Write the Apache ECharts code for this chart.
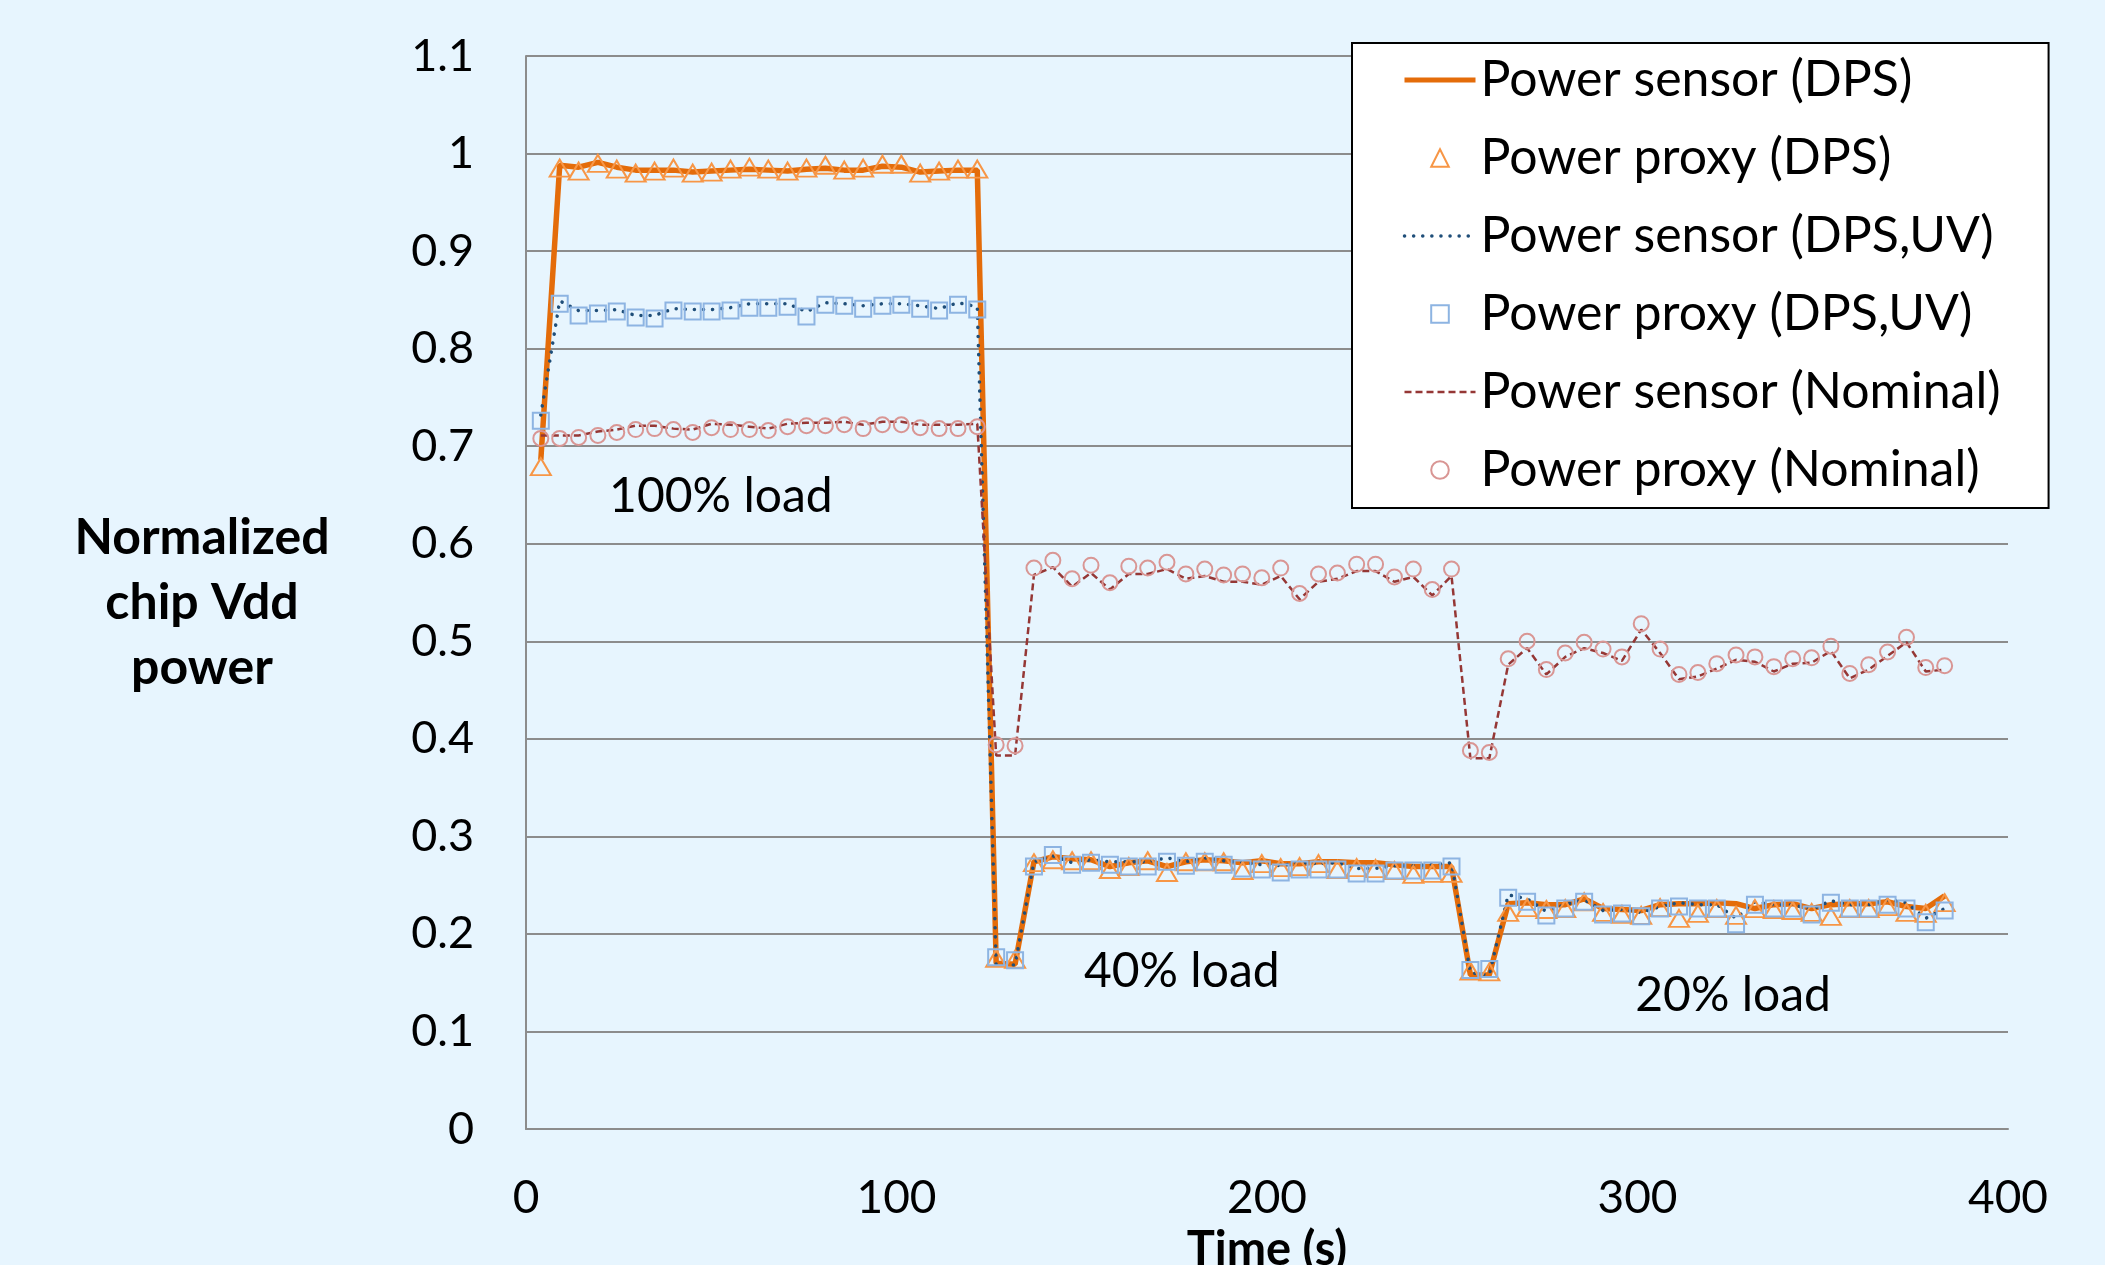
<!DOCTYPE html>
<html><head><meta charset="utf-8">
<script src="https://cdn.jsdelivr.net/npm/echarts@6/dist/echarts.min.js"></script>
<style>html,body{margin:0;padding:0;background:#E7F5FE;}#c{width:2105px;height:1265px;}</style>
</head><body><div id="c"></div>
<script>
// Time (s) of each sample
const times = [4.0, 9.1, 14.2, 19.4, 24.5, 29.6, 34.7, 39.8, 45.0, 50.1,
  55.2, 60.3, 65.4, 70.6, 75.7, 80.8, 85.9, 91.0, 96.2, 101.3,
  106.4, 111.5, 116.6, 121.8, 126.9, 132.0, 137.1, 142.2, 147.4, 152.5,
  157.6, 162.7, 167.8, 173.0, 178.1, 183.2, 188.3, 193.4, 198.6, 203.7,
  208.8, 213.9, 219.0, 224.2, 229.3, 234.4, 239.5, 244.6, 249.8, 254.9,
  260.0, 265.1, 270.2, 275.4, 280.5, 285.6, 290.7, 295.8, 301.0, 306.1,
  311.2, 316.3, 321.4, 326.6, 331.7, 336.8, 341.9, 347.0, 352.2, 357.3,
  362.4, 367.5, 372.6, 377.8, 382.9];

const seriesNames = ['Power sensor (DPS)', 'Power proxy (DPS)', 'Power sensor (DPS,UV)',
  'Power proxy (DPS,UV)', 'Power sensor (Nominal)', 'Power proxy (Nominal)'];

const sensorDPS = [0.686,
  0.988, 0.986, 0.991, 0.986, 0.983, 0.983, 0.983, 0.981, 0.982, 0.983, 0.984, 0.983,
  0.982, 0.984, 0.985, 0.983, 0.983, 0.987, 0.986, 0.981, 0.982, 0.983, 0.983,
  0.170, 0.169,
  0.274, 0.279, 0.277, 0.276, 0.269, 0.273, 0.275, 0.269, 0.274, 0.276, 0.275, 0.273,
  0.275, 0.272, 0.272, 0.274, 0.274, 0.273, 0.273, 0.271, 0.269, 0.269, 0.269,
  0.158, 0.158,
  0.231, 0.232, 0.230, 0.230, 0.236, 0.226, 0.225, 0.224, 0.230, 0.231, 0.231, 0.232,
  0.231, 0.226, 0.230, 0.231, 0.226, 0.230, 0.231, 0.231, 0.233, 0.228, 0.226, 0.239];

const proxyDPS = [0.679,
  0.985, 0.982, 0.990, 0.984, 0.980, 0.982, 0.985, 0.980, 0.981, 0.984, 0.986, 0.984,
  0.982, 0.985, 0.988, 0.983, 0.985, 0.989, 0.989, 0.980, 0.982, 0.984, 0.984,
  0.175, 0.174,
  0.273, 0.276, 0.275, 0.275, 0.266, 0.269, 0.275, 0.263, 0.274, 0.274, 0.274, 0.265,
  0.272, 0.268, 0.269, 0.272, 0.266, 0.268, 0.267, 0.265, 0.261, 0.262, 0.262,
  0.162, 0.161,
  0.222, 0.227, 0.225, 0.226, 0.233, 0.222, 0.220, 0.219, 0.227, 0.216, 0.221, 0.226,
  0.219, 0.226, 0.225, 0.224, 0.222, 0.218, 0.226, 0.226, 0.228, 0.222, 0.221, 0.232];

const sensorUV = [0.732,
  0.849, 0.839, 0.839, 0.840, 0.834, 0.834, 0.841, 0.840, 0.840, 0.842, 0.846, 0.846,
  0.846, 0.838, 0.847, 0.846, 0.844, 0.846, 0.846, 0.844, 0.841, 0.847, 0.843,
  0.168, 0.168,
  0.274, 0.280, 0.273, 0.276, 0.274, 0.274, 0.274, 0.278, 0.274, 0.278, 0.275, 0.273,
  0.271, 0.270, 0.273, 0.272, 0.273, 0.267, 0.267, 0.270, 0.270, 0.271, 0.273,
  0.160, 0.158,
  0.240, 0.236, 0.223, 0.230, 0.235, 0.224, 0.225, 0.222, 0.228, 0.232, 0.230, 0.230,
  0.216, 0.233, 0.230, 0.230, 0.225, 0.234, 0.230, 0.230, 0.235, 0.232, 0.216, 0.226];

const proxyUV = [0.726,
  0.846, 0.834, 0.836, 0.838, 0.832, 0.831, 0.839, 0.838, 0.838, 0.839, 0.842, 0.842,
  0.843, 0.833, 0.845, 0.844, 0.841, 0.844, 0.845, 0.841, 0.839, 0.845, 0.840,
  0.176, 0.173,
  0.269, 0.281, 0.271, 0.273, 0.271, 0.269, 0.269, 0.274, 0.270, 0.274, 0.271, 0.267,
  0.266, 0.263, 0.266, 0.266, 0.266, 0.262, 0.262, 0.265, 0.265, 0.265, 0.269,
  0.163, 0.164,
  0.237, 0.233, 0.219, 0.226, 0.233, 0.220, 0.221, 0.218, 0.226, 0.228, 0.226, 0.226,
  0.210, 0.230, 0.226, 0.226, 0.220, 0.232, 0.226, 0.226, 0.230, 0.226, 0.212, 0.224];

const sensorNom = [0.711,
  0.711, 0.711, 0.715, 0.717, 0.721, 0.721, 0.718, 0.717, 0.723, 0.722, 0.720, 0.718,
  0.723, 0.724, 0.724, 0.725, 0.722, 0.725, 0.725, 0.722, 0.722, 0.722, 0.723,
  0.383, 0.383,
  0.568, 0.576, 0.556, 0.570, 0.553, 0.569, 0.569, 0.574, 0.564, 0.567, 0.561, 0.561,
  0.558, 0.567, 0.543, 0.561, 0.564, 0.572, 0.572, 0.561, 0.566, 0.547, 0.567,
  0.380, 0.380,
  0.476, 0.493, 0.466, 0.484, 0.493, 0.488, 0.480, 0.512, 0.488, 0.461, 0.464, 0.472,
  0.481, 0.479, 0.469, 0.477, 0.478, 0.490, 0.462, 0.471, 0.485, 0.499, 0.469, 0.471];

const proxyNom = [0.708,
  0.708, 0.709, 0.711, 0.714, 0.717, 0.718, 0.717, 0.714, 0.719, 0.717, 0.717, 0.716,
  0.720, 0.721, 0.721, 0.722, 0.718, 0.722, 0.722, 0.719, 0.718, 0.718, 0.720,
  0.394, 0.393,
  0.575, 0.583, 0.564, 0.578, 0.560, 0.577, 0.575, 0.581, 0.569, 0.574, 0.568, 0.569,
  0.565, 0.575, 0.549, 0.569, 0.570, 0.579, 0.579, 0.566, 0.574, 0.553, 0.574,
  0.388, 0.386,
  0.482, 0.500, 0.471, 0.488, 0.499, 0.492, 0.484, 0.518, 0.492, 0.466, 0.468, 0.477,
  0.486, 0.484, 0.474, 0.482, 0.483, 0.495, 0.467, 0.476, 0.489, 0.504, 0.473, 0.475];

const loadLabels = ['100% load', '40% load', '20% load'];
const yAxisTitle = 'Normalized\nchip Vdd\npower';
const xAxisTitle = 'Time (s)';

function pairs(arr) { return times.map(function (t, i) { return [t, arr[i]]; }); }

const FONT = 'Lato';
const grey = '#8C8C8C';
const chart = echarts.init(document.getElementById('c'), null, {renderer: 'canvas'});

function proxySeries(name, arr, symbol, size, color) {
  return {
    name: name, type: 'line', data: pairs(arr), symbol: symbol, symbolSize: size,
    showSymbol: true, showAllSymbol: true,
    lineStyle: {width: 0, opacity: 0},
    itemStyle: {color: 'rgba(0,0,0,0)', borderColor: color, borderWidth: 2}
  };
}

chart.setOption({
  backgroundColor: '#E7F5FE',
  animation: false,
  grid: {left: 526, right: 97, top: 56, bottom: 136, outerBoundsMode: 'none', containLabel: false},
  graphic: [{
    type: 'text', x: 202, y: 603, silent: true,
    style: {text: yAxisTitle, textAlign: 'center', textVerticalAlign: 'middle',
      font: 'bold 50px Lato', lineHeight: 65, fill: '#000'}
  }],
  xAxis: {
    type: 'value', min: 0, max: 400, interval: 100,
    axisLine: {show: true, lineStyle: {color: grey, width: 2}},
    axisTick: {show: false},
    splitLine: {show: false},
    axisLabel: {fontFamily: FONT, fontSize: 46, color: '#000', margin: 46},
    name: xAxisTitle, nameLocation: 'middle', nameGap: 96,
    nameTextStyle: {fontFamily: FONT, fontWeight: 'bold', fontSize: 47, color: '#000'}
  },
  yAxis: {
    type: 'value', min: 0, max: 1.1, interval: 0.1,
    axisLine: {show: true, lineStyle: {color: grey, width: 2}},
    axisTick: {show: false},
    splitLine: {show: true, lineStyle: {color: grey, width: 2}},
    axisLabel: {fontFamily: FONT, fontSize: 45, color: '#000', margin: 52}
  },
  legend: {
    orient: 'vertical', left: 1352, top: 43,
    itemWidth: 71, itemHeight: 22, itemGap: 26,
    padding: [11, 48, 12, 50],
    backgroundColor: '#FFFFFF', borderColor: '#000', borderWidth: 2, borderRadius: 0,
    textStyle: {fontFamily: FONT, fontSize: 50, color: '#000', lineHeight: 52},
    data: [
      {name: seriesNames[0], itemStyle: {opacity: 0}, lineStyle: {color: '#E46C0A', width: 5, type: 'solid', opacity: 1}},
      {name: seriesNames[1], lineStyle: {opacity: 0, width: 0}},
      {name: seriesNames[2], itemStyle: {opacity: 0}, lineStyle: {color: '#1F4E79', width: 3.5, type: [0.1, 9], cap: 'round', opacity: 1}},
      {name: seriesNames[3], lineStyle: {opacity: 0, width: 0}},
      {name: seriesNames[4], itemStyle: {opacity: 0}, lineStyle: {color: '#953735', width: 2.5, type: [7, 4], opacity: 1}},
      {name: seriesNames[5], lineStyle: {opacity: 0, width: 0}}
    ]
  },
  series: [
    {
      name: seriesNames[0], type: 'line', data: pairs(sensorDPS), symbol: 'none',
      lineStyle: {color: '#E46C0A', width: 5.5}, itemStyle: {color: '#E46C0A'},
      markPoint: {
        silent: true, symbol: 'rect', symbolSize: 1,
        itemStyle: {color: 'rgba(0,0,0,0)'},
        label: {show: true, position: 'inside', formatter: '{b}', fontFamily: FONT, fontSize: 48, color: '#000'},
        data: [
          {name: loadLabels[0], coord: [52.6, 0.648]},
          {name: loadLabels[1], coord: [177, 0.161]},
          {name: loadLabels[2], coord: [325.8, 0.137]}
        ]
      }
    },
    proxySeries(seriesNames[1], proxyDPS, 'triangle', [20, 17], '#F79646'),
    {
      name: seriesNames[2], type: 'line', data: pairs(sensorUV), symbol: 'none',
      lineStyle: {color: '#1F4E79', width: 3.5, type: [0.1, 9], cap: 'round'}, itemStyle: {color: '#1F4E79'}
    },
    proxySeries(seriesNames[3], proxyUV, 'rect', 16, '#8DB4E2'),
    {
      name: seriesNames[4], type: 'line', data: pairs(sensorNom), symbol: 'none',
      lineStyle: {color: '#953735', width: 2.5, type: [7, 4]}, itemStyle: {color: '#953735'}
    },
    proxySeries(seriesNames[5], proxyNom, 'circle', 15, '#D99694')
  ]
});
</script></body></html>
